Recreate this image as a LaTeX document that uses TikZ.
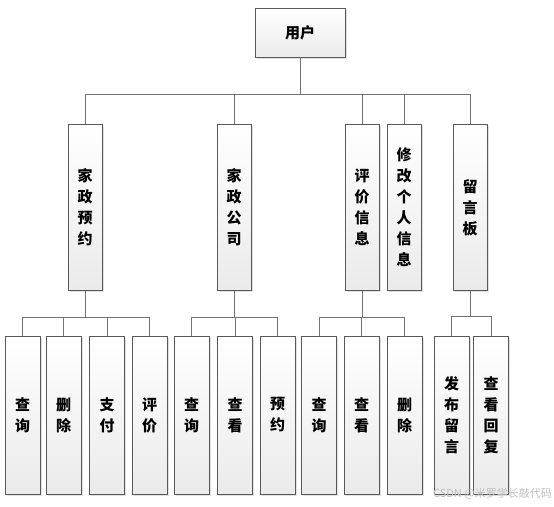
\documentclass[tikz,border=0pt]{standalone}
\usepackage{fontspec}
\newfontfamily\cjk{Noto Sans CJK SC}
\usetikzlibrary{shadows,positioning}
\tikzset{
  box/.style={draw=black!65, top color=white, bottom color=black!8,
    drop shadow={shadow xshift=1.5pt, shadow yshift=-1.5pt, fill=black!20, opacity=.6},
    font=\cjk\bfseries\fontsize{15}{21}\selectfont, align=center, inner sep=0pt},
  mod/.style={box, minimum width=34pt, minimum height=166pt},
  fun/.style={box, minimum width=35pt, minimum height=158pt},
  link/.style={draw=black!55, line width=.8pt}
}
\begin{document}
\begin{tikzpicture}[x=1pt,y=-1pt]
\useasboundingbox (0,0) rectangle (554,506);
%user
\node[box, minimum width=90pt, minimum height=49pt] (user) at (300,32.5) {用户};

%modules
\foreach \x/\t/\n in {85/{家\\政\\预\\约}/yy, 234/{家\\政\\公\\司}/gs,
  362/{评\\价\\信\\息}/pj, 404/{修\\改\\个\\人\\信\\息}/xg, 470/{留\\言\\板}/ly}
  \node[mod] (\n) at (\x,207.5) {\t};
\draw[link] (user.south) -- ++(0,37) coordinate (bus);
\foreach \n in {yy,gs,pj,xg,ly} \draw[link] (bus) -| (\n.north);

%yy: jiazheng yuyue
\foreach \x/\t/\n in {22.5/{查\\询}/cx, 63.5/{删\\除}/sc, 107/{支\\付}/zf, 149.5/{评\\价}/pj}
  \node[fun] (yy\n) at (\x,415) {\t};
\draw[link] (yy.south) -- ++(0,26.5) coordinate (yyb);
\foreach \n in {cx,sc,zf,pj} \draw[link] (yyb) -| (yy\n.north);

%gs: jiazheng gongsi
\foreach \x/\t/\n in {191.5/{查\\询}/cx, 235/{查\\看}/ck, 277.5/{预\\约}/yy}
  \node[fun] (gs\n) at (\x,415) {\t};
\draw[link] (gs.south) -- ++(0,26.5) coordinate (gsb);
\foreach \n in {cx,ck,yy} \draw[link] (gsb) -| (gs\n.north);

%pj: pingjia xinxi
\foreach \x/\t/\n in {319/{查\\询}/cx, 361.5/{查\\看}/ck, 404.5/{删\\除}/sc}
  \node[fun] (pj\n) at (\x,415) {\t};
\draw[link] (pj.south) -- ++(0,26.5) coordinate (pjb);
\foreach \n in {cx,ck,sc} \draw[link] (pjb) -| (pj\n.north);

%ly: liuyanban
\foreach \x/\t/\n in {451.5/{发\\布\\留\\言}/fb, 491/{查\\看\\回\\复}/hf}
  \node[fun] (ly\n) at (\x,415) {\t};
\draw[link] (ly.south) -- ++(0,25.5) coordinate (lyb);
\foreach \n in {fb,hf} \draw[link] (lyb) -| (ly\n.north);

%watermark
\node[anchor=east, text=black!25, font=\cjk\fontsize{11}{12}\selectfont, inner sep=0pt] (wm) at (552,494) {CSDN @米罗学长敲代码};
\end{tikzpicture}
\end{document}
